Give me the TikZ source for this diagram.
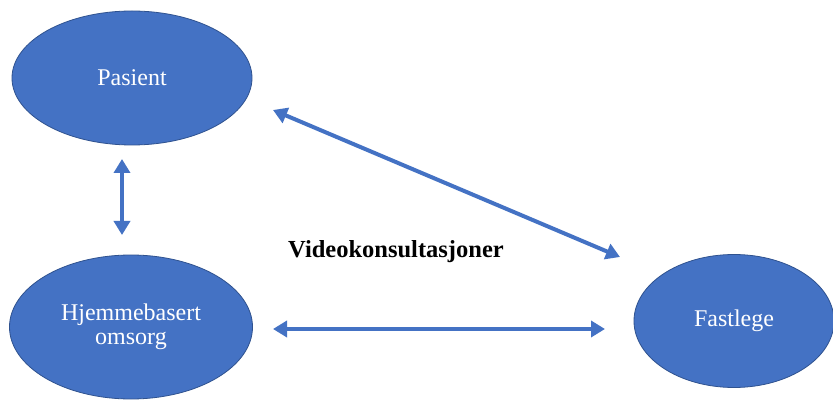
\documentclass[tikz,border=0pt]{standalone}
\usepackage{fontspec}
\setmainfont{Liberation Serif}
\usetikzlibrary{shapes.geometric,arrows.meta}
\definecolor{ofblue}{HTML}{4472C4}
\definecolor{ofedge}{HTML}{2F528F}
\tikzset{
  oval/.style={ellipse, draw=ofedge, line width=0.8pt, fill=ofblue, text=white, inner sep=0pt, align=center, font=\fontsize{24}{24}\selectfont},
  link/.style={draw=ofblue, line width=4pt, {Triangle[length=14pt,width=16pt]}-{Triangle[length=14pt,width=16pt]}}
}
\begin{document}
\begin{tikzpicture}[x=1pt,y=-1pt]
\useasboundingbox[fill=white] (0,0) rectangle (833,403);
\node[oval, minimum width=240pt, minimum height=134pt] (pas) at (132,78) {Pasient};
\node[oval, minimum width=243pt, minimum height=144pt] (hjem) at (131,327) {Hjemmebasert\\omsorg};
\node[oval, minimum width=200pt, minimum height=133pt] (fast) at (734,321) {Fastlege};
\node[font=\fontsize{24.5}{24}\selectfont\bfseries, anchor=base] (video) at (396,258) {Videokonsultasjoner};
\coordinate (v1) at (122,159);
\coordinate (v2) at (122,235);
\coordinate (d1) at (273,110);
\coordinate (d2) at (620,257);
\coordinate (h1) at (273,329);
\coordinate (h2) at (605,329);
\draw[link] (v1) -- (v2);
\draw[link] (d1) -- (d2);
\draw[link] (h1) -- (h2);
\end{tikzpicture}
\end{document}
